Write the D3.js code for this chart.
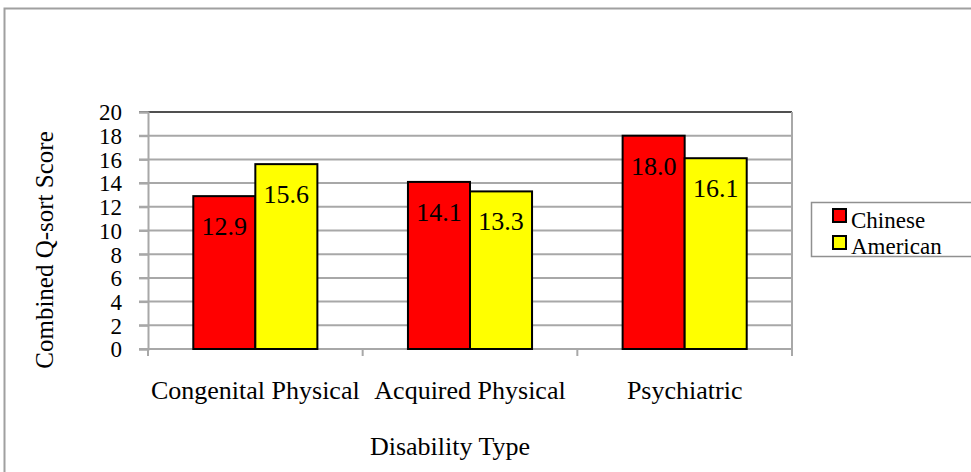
<!DOCTYPE html>
<html>
<head>
<meta charset="utf-8">
<script src="https://cdn.jsdelivr.net/npm/d3@7"></script>
<style>
  body { margin: 0; background: #fff; }
  text { font-family: "Liberation Serif", "Times New Roman", serif; fill: #000; }
</style>
</head>
<body>
<svg id="chart" width="971" height="472"></svg>
<script>
// chart data
const categories = ["Congenital Physical", "Acquired Physical", "Psychiatric"];
const seriesNames = ["Chinese", "American"];
const chinese = [12.9, 14.1, 18.0];
const american = [15.6, 13.3, 16.1];
const yTicks = [0, 2, 4, 6, 8, 10, 12, 14, 16, 18, 20];
const colors = ["#ff0000", "#ffff00"];

const svg = d3.select("#chart");

// outer frame (runs off the right and bottom edge like the screenshot)
svg.append("rect")
  .attr("x", 4.5).attr("y", 8.5)
  .attr("width", 1000).attr("height", 500)
  .attr("fill", "none").attr("stroke", "#a0a0a0").attr("stroke-width", 2);

const plotLeft = 148, plotRight = 792, plotTop = 112, plotBottom = 349;

const x0 = d3.scaleBand().domain(categories).range([plotLeft, plotRight]);
const x1 = d3.scaleBand().domain(seriesNames)
  .range([0, x0.bandwidth()]).paddingOuter(0.73).paddingInner(0);
const y = d3.scaleLinear().domain([0, 20]).range([plotBottom, plotTop]);

// grid lines
svg.append("g").selectAll("line")
  .data(yTicks.filter(d => d > 0))
  .enter().append("line")
  .attr("x1", plotLeft - 9).attr("x2", plotRight)
  .attr("y1", d => y(d)).attr("y2", d => y(d))
  .attr("stroke", d => d === 20 ? "#505050" : "#a8a8a8")
  .attr("stroke-width", 2);

// right edge of plot
svg.append("line")
  .attr("x1", plotRight).attr("x2", plotRight)
  .attr("y1", plotTop).attr("y2", plotBottom + 6)
  .attr("stroke", "#a8a8a8").attr("stroke-width", 2);

// y axis
const yAxis = svg.append("g")
  .attr("transform", "translate(" + plotLeft + ",0)")
  .call(d3.axisLeft(y).tickValues(yTicks).tickSize(9).tickFormat(d3.format("d")));
yAxis.attr("font-family", null);
yAxis.select(".domain").attr("stroke", "#a8a8a8").attr("stroke-width", 2);
yAxis.selectAll(".tick line").attr("stroke", "#a8a8a8").attr("stroke-width", 2);
yAxis.selectAll("text")
  .attr("x", -26).attr("dy", "0.34em")
  .style("font-size", "23px");

// x axis
const xAxis = svg.append("g")
  .attr("transform", "translate(0," + plotBottom + ")");
xAxis.append("line")
  .attr("x1", plotLeft - 9).attr("x2", plotRight)
  .attr("stroke", "#a8a8a8").attr("stroke-width", 2);
xAxis.selectAll(".sep")
  .data(categories.map(c => x0(c)).concat([plotRight]))
  .enter().append("line")
  .attr("x1", d => d).attr("x2", d => d)
  .attr("y1", 0).attr("y2", 7)
  .attr("stroke", "#a8a8a8").attr("stroke-width", 2);
xAxis.selectAll(".cat")
  .data(categories)
  .enter().append("text")
  .attr("x", d => x0(d) + x0.bandwidth() / 2)
  .attr("y", 50)
  .attr("text-anchor", "middle")
  .style("font-size", "26px")
  .text(d => d);

// bars
const groups = svg.append("g").selectAll("g")
  .data(categories)
  .enter().append("g")
  .attr("transform", d => "translate(" + x0(d) + ",0)");

const values = [chinese, american];
groups.selectAll("rect")
  .data((d, i) => seriesNames.map((s, k) => ({ s: s, v: values[k][i], k: k })))
  .enter().append("rect")
  .attr("x", d => x1(d.s))
  .attr("y", d => y(d.v))
  .attr("width", x1.bandwidth())
  .attr("height", d => plotBottom - y(d.v))
  .attr("fill", d => colors[d.k])
  .attr("stroke", "#000").attr("stroke-width", 2);

groups.selectAll(".lbl")
  .data((d, i) => seriesNames.map((s, k) => ({ s: s, v: values[k][i], k: k })))
  .enter().append("text")
  .attr("x", d => x1(d.s) + x1.bandwidth() / 2)
  .attr("y", d => y(d.v) + 39)
  .attr("text-anchor", "middle")
  .style("font-size", "26px")
  .text(d => d3.format(".1f")(d.v));

// axis titles
svg.append("text")
  .attr("transform", "translate(53,250) rotate(-90)")
  .attr("text-anchor", "middle")
  .style("font-size", "25px")
  .text("Combined Q-sort Score");

svg.append("text")
  .attr("x", 450).attr("y", 455)
  .attr("text-anchor", "middle")
  .style("font-size", "26px")
  .text("Disability Type");

// legend
const legend = svg.append("g");
legend.append("rect")
  .attr("x", 811.5).attr("y", 202.5)
  .attr("width", 200).attr("height", 54)
  .attr("fill", "#fff").attr("stroke", "#909090").attr("stroke-width", 1.5);
seriesNames.forEach((s, i) => {
  legend.append("rect")
    .attr("x", 833).attr("y", 209 + i * 27)
    .attr("width", 13).attr("height", 13)
    .attr("fill", colors[i]).attr("stroke", "#000").attr("stroke-width", 2);
  legend.append("text")
    .attr("x", 851).attr("y", 227.5 + i * 26.5)
    .style("font-size", "23px")
    .text(s);
});
</script>
</body>
</html>
